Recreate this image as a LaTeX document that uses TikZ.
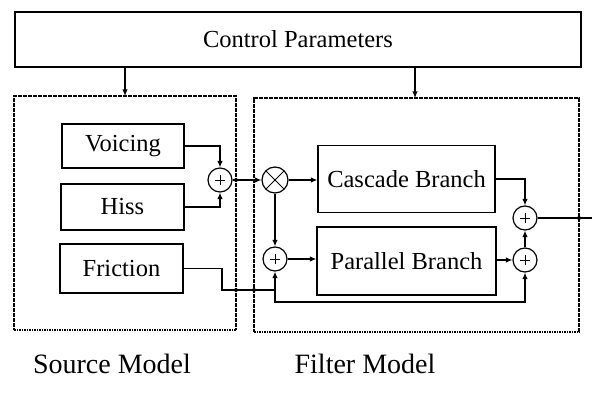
\documentclass[tikz,border=0pt]{standalone}
\usepackage{fontspec}
\setmainfont{Liberation Serif}
\usetikzlibrary{arrows.meta}

\begin{document}
\begin{tikzpicture}[x=1pt,y=-1pt,
  line width=1.2pt,
  blk/.style={draw, line width=1.3pt, inner sep=0pt, font=\fontsize{24.5}{27}\selectfont},
  region/.style={draw, line width=1.1pt, dash pattern=on 1.6pt off 0.9pt, inner sep=0pt},
  sumnode/.style={circle, draw, line width=1.2pt, minimum size=24pt, inner sep=0pt,
    path picture={
      \draw[line width=1pt]
        ([xshift=-5pt]path picture bounding box.center) -- ([xshift=5pt]path picture bounding box.center)
        ([yshift=-5pt]path picture bounding box.center) -- ([yshift=5pt]path picture bounding box.center);}},
  mulnode/.style={circle, draw, line width=1.2pt, minimum size=26pt, inner sep=0pt,
    path picture={
      \draw[line width=1pt]
        (path picture bounding box.north west) -- (path picture bounding box.south east)
        (path picture bounding box.north east) -- (path picture bounding box.south west);}},
  arr/.style={-{Latex[length=6.5pt,width=5.5pt]}},
  junction/.style={circle, fill, inner sep=0pt, minimum size=4pt},
  caption/.style={font=\fontsize{28}{32}\selectfont}
]
\useasboundingbox (0,0) rectangle (592,396);

% control block across the top
\node[blk, minimum width=566pt, minimum height=55pt] (ctrl) at (298,39.5) {Control Parameters};

% dashed model regions
\node[region, minimum width=222pt, minimum height=234pt] (src) at (125,213) {};
\node[region, minimum width=325pt, minimum height=234pt] (flt) at (416.5,215) {};

% source blocks
\node[blk, minimum width=122pt, minimum height=44pt] (voic) at (123,146) {Voicing};
\node[blk, minimum width=123pt, minimum height=46pt] (hiss) at (122.5,207) {Hiss};
\node[blk, minimum width=123pt, minimum height=49pt] (fric) at (121.5,268.5) {Friction};

% filter blocks
\node[blk, minimum width=177pt, minimum height=67pt] (casc) at (406.5,179) {Cascade Branch};
\node[blk, minimum width=179pt, minimum height=68pt] (para) at (406.5,261) {Parallel Branch};

% adders and multiplier
\node[sumnode] (s1) at (220,180) {};
\node[mulnode] (mul) at (275,180) {};
\node[sumnode] (s2) at (275,259) {};
\node[sumnode] (s3) at (525,260) {};
\node[sumnode] (s4) at (525,218) {};

% routing points
\coordinate (ctrlA) at (125,67);
\coordinate (srcTop) at (125,96);
\coordinate (ctrlB) at (415,67);
\coordinate (fltTop) at (415,98);
\coordinate (vBend) at (220,146);
\coordinate (hBend) at (220,207);
\coordinate (fBend1) at (222,268.5);
\coordinate (fBend2) at (222,290);
\coordinate (fJoin) at (275,290);
\coordinate (fLow) at (275,302);
\coordinate (fRight) at (525,302);
\coordinate (cBend) at (525,179);
\coordinate (outEnd) at (592,218);
\coordinate (dotA) at (236,180);
\coordinate (dotB) at (236,290);
\coordinate (dotC) at (254,290);
\coordinate (dotD) at (579,218);

% control inputs
\draw[arr] (ctrlA) -- (srcTop);
\draw[arr] (ctrlB) -- (fltTop);

% source connections
\draw[arr] (voic.east |- vBend) -- (vBend) -- (s1.north);
\draw[arr] (hiss.east |- hBend) -- (hBend) -- (s1.south);
\draw[arr] (s1.east) -- (mul.west);

% friction path into both adders
\draw (fric.east) -- (fBend1) -- (fBend2) -- (fJoin);
\draw[arr] (fJoin) -- (s2.south);
\draw[arr] (fJoin) -- (fLow) -- (fRight) -- (s3.south);

% filter connections
\draw[arr] (mul.east) -- (casc.west |- mul.east);
\draw[arr] (mul.south) -- (s2.north);
\draw[arr] (s2.east) -- (para.west |- s2.east);
\draw[arr] (casc.east |- cBend) -- (cBend) -- (s4.north);
\draw[arr] (para.east |- s3.west) -- (s3.west);
\draw[arr] (s3.north) -- (s4.south);
\draw (s4.east) -- (outEnd);

% crossing marks on the region borders
\foreach \p in {dotA,dotB,dotC,dotD} \node[junction] at (\p) {};

% region captions
\node[caption] (srcCap) at (112,364) {Source Model};
\node[caption] (fltCap) at (365,364) {Filter Model};
\end{tikzpicture}
\end{document}
